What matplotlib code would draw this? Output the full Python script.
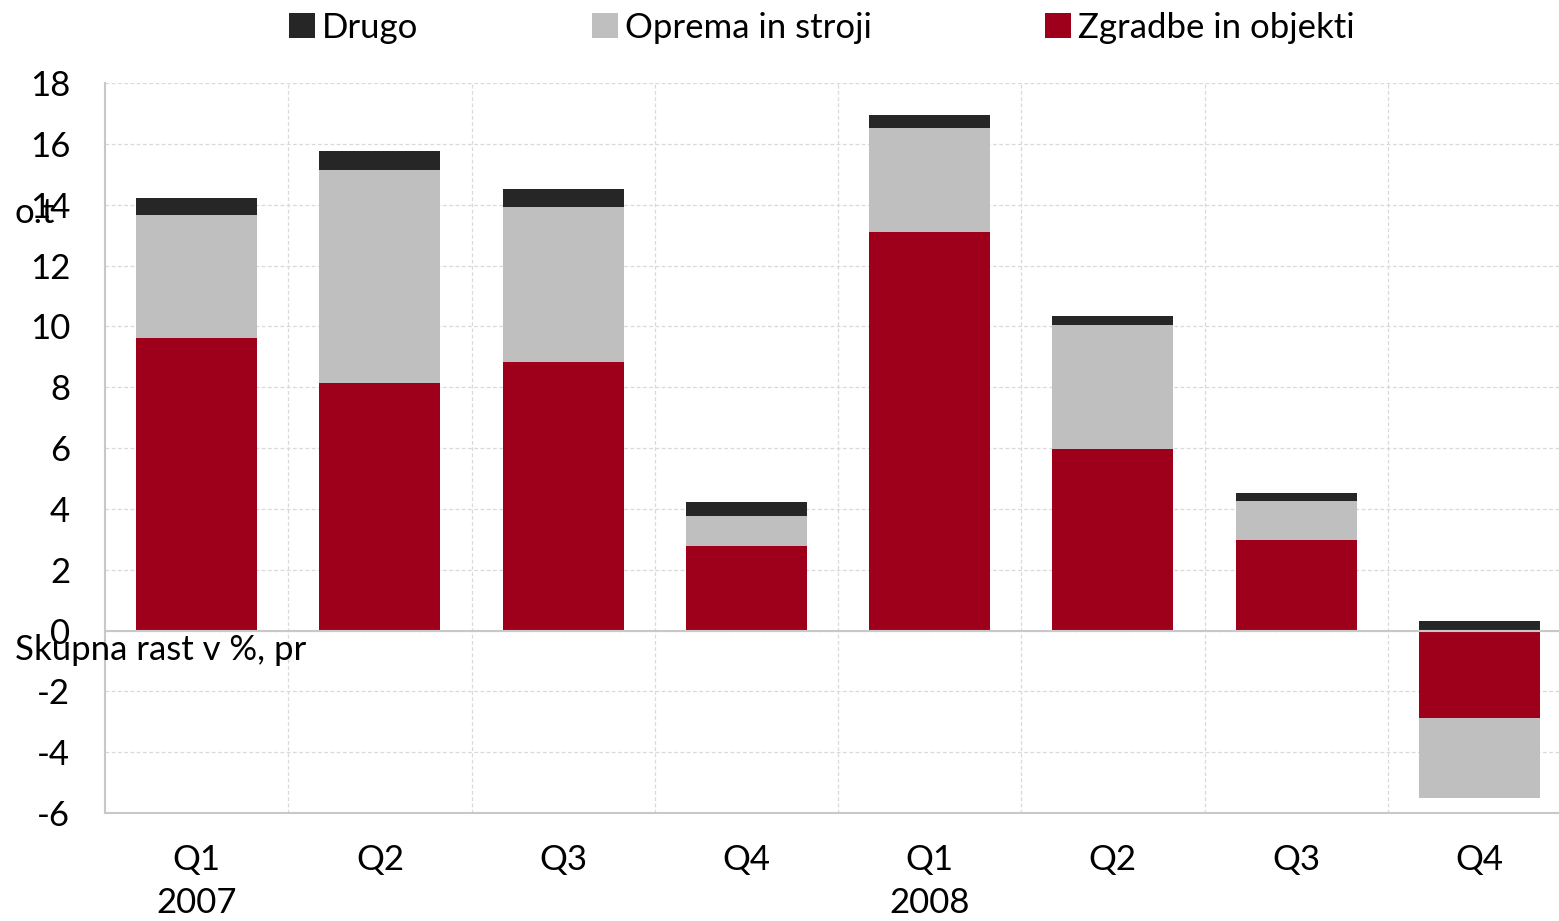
import matplotlib.pyplot as plt
import numpy as np

# podatki (prispevki k rasti)
kvartali = ['Q1', 'Q2', 'Q3', 'Q4', 'Q1', 'Q2', 'Q3', 'Q4']
leta = ['2007', '', '', '', '2008', '', '', '']
zgradbe = [9.63, 8.15, 8.84, 2.79, 13.11, 5.98, 2.96, -2.89]
oprema = [4.04, 6.99, 5.09, 0.96, 3.41, 4.07, 1.31, -2.63]
drugo = [0.55, 0.63, 0.59, 0.49, 0.43, 0.30, 0.26, 0.30]

plt.rcParams['font.family'] = ['Lato', 'DejaVu Sans']
plt.rcParams['axes.unicode_minus'] = False

fig = plt.figure(figsize=(15.59, 9.21), dpi=100)
ax = fig.add_axes([105/1559, 1-813/921, 1466/1559, 730/921])

x = np.arange(len(kvartali))
w = 0.66
serije = [(zgradbe, '#9e001c', 'Zgradbe in objekti'),
          (oprema, '#bfbfbf', 'Oprema in stroji'),
          (drugo, '#262626', 'Drugo')]

pos = np.zeros(len(x))
neg = np.zeros(len(x))
handles = {}
for vals, barva, ime in serije:
    vals = np.array(vals)
    dno = np.where(vals >= 0, pos, neg)
    b = ax.bar(x, vals, w, bottom=dno, color=barva, label=ime, zorder=3)
    handles[ime] = b
    pos = pos + np.where(vals >= 0, vals, 0)
    neg = neg + np.where(vals < 0, vals, 0)

ax.set_xlim(-0.5, len(x) - 0.5)
ax.set_ylim(-6, 18)
ax.set_yticks(np.arange(-6, 19, 2))
ax.set_xticks(x)
ax.set_xticklabels([f'{k}\n{l}' for k, l in zip(kvartali, leta)], fontsize=25,
                   linespacing=1.45)
ax.tick_params(axis='y', labelsize=25, length=0, pad=25)
ax.tick_params(axis='x', length=0, pad=22)

# mreza
ax.set_xticks(np.arange(0.5, len(x) - 0.5, 1), minor=True)
ax.tick_params(axis='x', which='minor', length=0)
ax.grid(axis='y', which='major', color='#d9d9d9', linestyle=(0, (3, 2)), linewidth=0.9, zorder=0)
ax.grid(axis='x', which='minor', color='#d9d9d9', linestyle=(0, (3, 2)), linewidth=0.9, zorder=0)
ax.axhline(0, color='#c8c8c8', linewidth=1.5, zorder=4)

for s in ['top', 'right']:
    ax.spines[s].set_visible(False)
ax.spines['left'].set_color('#c8c8c8')
ax.spines['bottom'].set_color('#c8c8c8')
ax.spines['left'].set_linewidth(1.5)
ax.spines['bottom'].set_linewidth(1.5)

# razbita oznaka osi
fig.text(15/1559, 1-213/921, 'o.t', fontsize=25, va='center', ha='left')
fig.text(15/1559, 1-650/921, 'Skupna rast v %, pr', fontsize=25, va='center', ha='left')

# legenda
fig.legend([handles['Drugo'], handles['Oprema in stroji'], handles['Zgradbe in objekti']],
           ['Drugo', 'Oprema in stroji', 'Zgradbe in objekti'],
           loc='upper left', bbox_to_anchor=(268/1559, 1.01), ncol=3, frameon=False,
           fontsize=25, handlelength=0.75, handleheight=0.75, handletextpad=0.2,
           columnspacing=5.0, borderaxespad=0.2)

plt.savefig('out.png', dpi=100)
